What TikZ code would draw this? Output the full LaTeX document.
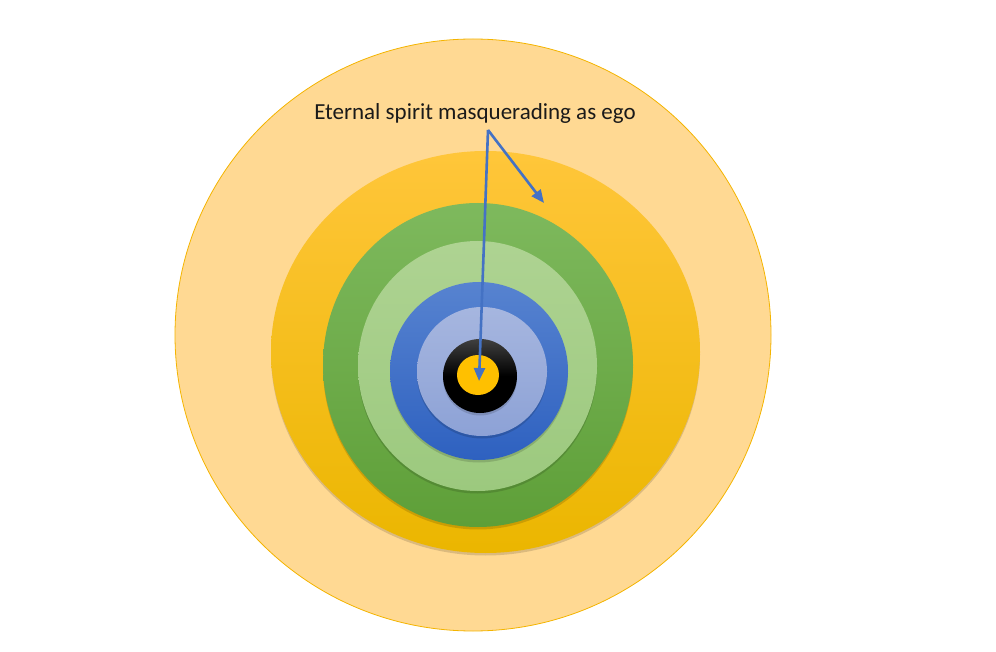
\documentclass[tikz,border=0pt]{standalone}
\usepackage{fontspec}
\setmainfont{Carlito}
\usetikzlibrary{arrows.meta,shadows}
\definecolor{paleamber}{HTML}{FFD993}
\definecolor{amberline}{HTML}{F4B400}
\definecolor{ambertop}{HTML}{FFC63A}
\definecolor{amberbot}{HTML}{EBB600}
\definecolor{greentop}{HTML}{7EB95D}
\definecolor{greenbot}{HTML}{5E9F38}
\definecolor{sagetop}{HTML}{AED392}
\definecolor{sagebot}{HTML}{9CC97E}
\definecolor{bluetop}{HTML}{5783D0}
\definecolor{bluebot}{HTML}{2E61C0}
\definecolor{skytop}{HTML}{A6B6DF}
\definecolor{skybot}{HTML}{8DA2D6}
\definecolor{core}{HTML}{FFC000}
\definecolor{pointer}{HTML}{4472C4}
\definecolor{ink}{HTML}{1A1A1A}
\tikzset{
  ringshadow/.style={drop shadow={shadow xshift=0pt,shadow yshift=-2.5pt,opacity=0.14,fill=black}},
  pointerline/.style={draw=pointer,line width=2.6pt,-{Triangle[length=13pt,width=11pt]}}
}

\begin{document}
\begin{tikzpicture}[x=1pt,y=-1pt]
        \useasboundingbox (0,0) rectangle (996,652);
        % rings, outside in
        \fill[paleamber,draw=amberline,line width=0.8pt] (473,335) ellipse (298 and 296);
        \shade[top color=ambertop,bottom color=amberbot,ringshadow] (485.5,352) ellipse (214.5 and 201);
        \shade[top color=greentop,bottom color=greenbot,ringshadow] (478,365) ellipse (155 and 162);
        \shade[top color=sagetop,bottom color=sagebot,ringshadow] (477.5,366) ellipse (119.5 and 125);
        \shade[top color=bluetop,bottom color=bluebot,ringshadow] (479,371) ellipse (89 and 89);
        \shade[top color=skytop,bottom color=skybot,ringshadow] (482,371.5) ellipse (65 and 64.5);
        \shade[top color=black!75,bottom color=black,middle color=black,ringshadow] (480,376) ellipse (37 and 37);
        \fill[core] (478,375) ellipse (21 and 20);
        % label and pointers
        \node[anchor=base,font=\fontsize{23}{26}\selectfont,text=ink,inner sep=0pt] (label) at (475,120)
          {Eternal spirit masquerading as ego};
        \coordinate (fork) at (488,130);
        \coordinate (centre) at (479,381);
        \coordinate (band) at (544,203);
        \draw[pointerline] (fork) -- (centre);
        \draw[pointerline] (fork) -- (band);
      \end{tikzpicture}
\end{document}
